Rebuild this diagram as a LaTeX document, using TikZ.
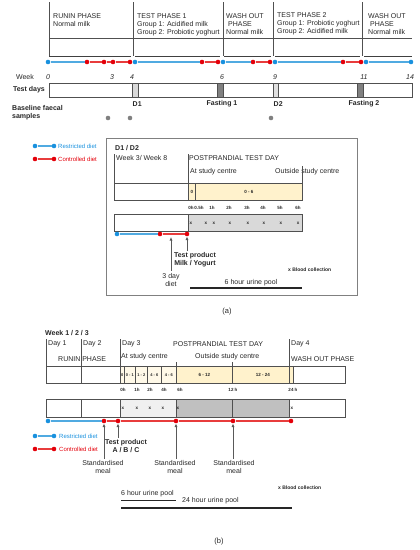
\documentclass[tikz,border=0pt]{standalone}
\usepackage{fontspec}
\setmainfont{Liberation Sans}
\usetikzlibrary{arrows.meta}
\definecolor{txt}{RGB}{38,38,38}
\definecolor{bline}{RGB}{80,170,225}
\definecolor{bdot}{RGB}{25,145,222}
\definecolor{rline}{RGB}{232,60,60}
\definecolor{rdot}{RGB}{228,0,10}
\definecolor{ylw}{RGB}{255,242,204}
\definecolor{ylwl}{RGB}{255,249,232}
\definecolor{gryl}{RGB}{240,240,240}
\definecolor{gryd}{RGB}{192,192,192}
\definecolor{gryb}{RGB}{217,217,217}
\definecolor{edge}{RGB}{80,80,80}
\begin{document}
\begin{tikzpicture}[x=1pt,y=-1pt,
  font=\fontsize{7}{8}\selectfont, text=txt,
  lbl/.style={inner sep=0pt},
  tinyb/.style={inner sep=0pt,font=\bfseries\fontsize{4.5}{5}\selectfont},
  small/.style={inner sep=0pt,font=\fontsize{6}{7}\selectfont},
  bd/.style={circle,fill=bdot,inner sep=0pt,minimum size=4.6pt},
  rd/.style={circle,fill=rdot,inner sep=0pt,minimum size=4.6pt},
  gd/.style={circle,fill=gray,inner sep=0pt,minimum size=4.6pt},
  bl/.style={draw=bline,line width=1.2pt},
  rl/.style={draw=rline,line width=1.2pt},
  grid/.style={draw=edge,line width=0.6pt},
  bar/.style={draw=black!75,line width=1.8pt},
  arr/.style={-{Latex[length=3.5pt,width=3pt]},line width=0.7pt,draw=black!65},
  cell/.style={grid,inner sep=0pt,anchor=north west}
]
\useasboundingbox (0,0) rectangle (420,550);

% ================= (a) top timeline =================
\foreach \x in {49,133,223,273,362} \draw[grid] (\x,2) -- (\x,56);
\draw[grid] (49,38) -- (412,38);
\foreach \a/\b in {49/131,135/220,224/271,275/360,364/412} \draw[bar] (\a,56.5) -- (\b,56.5);

\node[lbl,anchor=north west,align=left] (p1) at (53,13.5) {RUNIN PHASE\\Normal milk};
\node[lbl,anchor=north west,align=left] (p2) at (137,13.5) {TEST PHASE 1\\Group 1: Acidified milk\\Group 2: Probiotic yoghurt};
\node[lbl,anchor=north west,align=left] (p3) at (226,13.5) {WASH OUT\\\ PHASE\\Normal milk};
\node[lbl,anchor=north west,align=left] (p4) at (277,12.5) {TEST PHASE 2\\Group 1: Probiotic yoghurt\\Group 2: Acidified milk};
\node[lbl,anchor=north west,align=left] (p5) at (368,13.5) {WASH OUT\\\ PHASE\\Normal milk};

\foreach \n/\x/\c in {0/48/bd,1/87/rd,2/104/rd,3/113/rd,4/130/rd,5/135/bd,6/202/rd,7/218/rd,8/223/bd,9/253/rd,10/270/rd,11/275/bd,12/343/rd,13/361/rd,14/366/bd,15/411/bd}
  \node[\c] (t\n) at (\x,62) {};
\draw[bl] (t0) -- (t1);
\draw[rl] (t1) -- (t2) -- (t3) -- (t4);
\draw[bl] (t5) -- (t6);
\draw[rl] (t6) -- (t7);
\draw[bl] (t8) -- (t9);
\draw[rl] (t9) -- (t10);
\draw[bl] (t11) -- (t12);
\draw[rl] (t12) -- (t13);
\draw[bl] (t14) -- (t15);

\node[lbl,anchor=east] (week) at (34,77) {Week};
\foreach \w/\x in {0/48,3/112,4/132,6/222,9/275,11/364,14/410}
  \node[lbl] (wk\w) at (\x,77) {\itshape \w};

\node[lbl,anchor=east,font=\bfseries\fontsize{7}{8}\selectfont] (testdays) at (45,90) {Test days};
\node[grid,anchor=north west,minimum width=363pt,minimum height=14pt,inner sep=0pt] (tdbox) at (49,83) {};
\node[grid,fill=gryb,anchor=north west,minimum width=6pt,minimum height=14pt,inner sep=0pt] (d1b) at (132,83) {};
\node[grid,fill=black!50,anchor=north west,minimum width=6pt,minimum height=14pt,inner sep=0pt] (f1b) at (217,83) {};
\node[grid,fill=black!12,anchor=north west,minimum width=5pt,minimum height=14pt,inner sep=0pt] (d2b) at (273,83) {};
\node[grid,fill=black!50,anchor=north west,minimum width=6pt,minimum height=14pt,inner sep=0pt] (f2b) at (357,83) {};

\begin{scope}[font=\bfseries\fontsize{7}{8}\selectfont]
\node[lbl,anchor=west] (d1) at (132.5,104) {D1};
\node[lbl] (f1) at (222,104) {Fasting 1};
\node[lbl,anchor=west] (d2) at (273.5,104) {D2};
\node[lbl] (f2) at (364,104) {Fasting 2};
\node[lbl,anchor=north west,align=left] (base) at (12,105) {Baseline faecal\\samples};
\end{scope}
\node[gd] (s1) at (108,118) {};
\node[gd] (s2) at (130,118) {};
\node[gd] (s3) at (271,118) {};

% legend (a)
\node[bd] (la1) at (35,146) {};
\node[bd] (la2) at (54,146) {};
\draw[bl] (la1) -- (la2);
\node[small,anchor=west,text=bdot] (lat) at (58,146) {Restricted diet};
\node[rd] (lb1) at (35,159) {};
\node[rd] (lb2) at (54,159) {};
\draw[rl] (lb1) -- (lb2);
\node[small,anchor=west,text=rdot] (lbt) at (58,159) {Controlled diet};

% ================= (a) detail box =================
\node[draw=black!50,line width=1pt,anchor=north west,minimum width=251pt,minimum height=157pt,inner sep=0pt] (abox) at (106,138) {};
\node[lbl,anchor=west,font=\bfseries\fontsize{7}{8}\selectfont] (d1d2) at (115,148) {D1 / D2};
\node[lbl,anchor=west] (wk38) at (116,158) {Week 3/ Week 8};
\node[lbl,anchor=west] (ptd) at (189,158) {POSTPRANDIAL  TEST DAY};
\node[lbl,anchor=west] (atsc) at (190,172) {At  study centre};
\node[lbl,anchor=west] (outsc) at (275,172) {Outside study centre};
\draw[grid] (114,154) -- (114,183);
\draw[grid] (188,154) -- (188,183);
\draw[grid] (302,166) -- (302,183);

\node[cell,minimum width=74pt,minimum height=17pt] (ar1a) at (114,183) {};
\node[cell,fill=ylw,minimum width=7pt,minimum height=17pt] (ar1b) at (188,183) {};
\node[tinyb] at (ar1b.center) {0};
\node[cell,fill=ylw,minimum width=107pt,minimum height=17pt] (ar1c) at (195,183) {};
\node[tinyb] at (ar1c.center) {0 - 6};

\foreach \t/\x in {0h/191,0.5h/199,1h/212,2h/229,3h/247,4h/263,5h/280,6h/298}
  \node[tinyb] (at\t) at (\x,208) {\t};

\node[cell,minimum width=74pt,minimum height=17pt] (ar2a) at (114,214) {};
\node[cell,fill=gryb,minimum width=114pt,minimum height=17pt] (ar2b) at (188,214) {};
\foreach \x in {191,206,214,230,248,264,281,298}
  \node[tinyb] at (\x,223) {x};

\node[bd] (ad1) at (117,234) {};
\node[rd] (ad2) at (160,234) {};
\node[rd] (ad3) at (187,234) {};
\draw[bl] (ad1) -- (ad2);
\draw[rl] (ad2) -- (ad3);
\coordinate (ad4) at (171,237);

\node[lbl,anchor=north,align=center,font=\bfseries\fontsize{7}{8}\selectfont] (atp) at (195,252.5) {Test product\\Milk / Yogurt};
\node[lbl,anchor=north,align=center] (a3d) at (171,273.5) {3 day\\diet};
\draw[arr] (a3d.north) ++(0,-3) coordinate (a3dn) (a3dn) -- (ad4);
\draw[arr] (atp.north -| ad3) ++(0,-2) coordinate (atpn) (atpn) -- (ad3);

\node[lbl,anchor=west,font=\bfseries\fontsize{5}{6}\selectfont] (abc) at (288,270) {x Blood collection};
\node[lbl] (aurine) at (251,283) {6 hour urine pool};
\coordinate (au1) at (190,288);
\coordinate (au2) at (302,288);
\draw[line width=1.5pt,black!85] (au1) -- (au2);

\node[lbl,font=\fontsize{7.5}{9}\selectfont] (capa) at (227,312) {(a)};

% ================= (b) =================
\node[lbl,anchor=west,font=\bfseries\fontsize{7}{8}\selectfont] (wk123) at (45,333) {Week 1 / 2 / 3};
\foreach \x in {46,81,120,289} \draw[grid] (\x,339) -- (\x,366);
\draw[grid] (176,362) -- (176,366);
\draw[grid] (232,362) -- (232,366);

\node[lbl,anchor=west] (day1) at (48,344) {Day 1};
\node[lbl,anchor=west] (day2) at (83,344) {Day 2};
\node[lbl,anchor=west] (day3) at (122,344) {Day 3};
\node[lbl,anchor=west] (bptd) at (173,344) {POSTPRANDIAL  TEST DAY};
\node[lbl,anchor=west] (day4) at (291,344) {Day 4};
\node[lbl,anchor=west] (brun) at (58,359) {RUNIN PHASE};
\node[lbl,anchor=west] (batsc) at (121,357) {At  study centre};
\node[lbl,anchor=west] (boutsc) at (195,357) {Outside study centre};
\node[lbl,anchor=west] (bwash) at (291,359) {WASH OUT PHASE};

% row 1
\foreach \n/\a/\w/\f in {1/46/35/white,2/81/39/white,3/120/4/ylwl,4/124/11/ylwl,5/135/12/ylwl,6/147/14/ylwl,7/161/15/ylwl,8/176/56/ylw,9/232/61/ylw,10/293/52/white}
  \node[cell,fill=\f,minimum width=\w pt,minimum height=17pt] (br\n) at (\a,366) {};
\foreach \n/\t in {3/0,4/0 - 1,5/1 - 2,6/4 - 6,7/4 - 6}
  \node[inner sep=0pt,font=\bfseries\fontsize{4}{5}\selectfont] at (br\n.center) {\t};
\node[tinyb] at (br8.center) {6 - 12};
\node[tinyb] at (br9.center) {12 - 24};
\draw[grid] (289,366) -- (289,383);

\foreach \n/\t/\x in {0/0h/123,1/1h/137,2/2h/150,4/4h/164,6/6h/180,12/12 h/233,24/24 h/293}
  \node[tinyb] (bt\n) at (\x,390) {\t};

% row 2
\foreach \n/\a/\w/\f in {1/46/35/white,2/81/39/white,3/120/56/gryl,4/176/56/gryd,5/232/57/gryd,6/289/56/white}
  \node[cell,fill=\f,minimum width=\w pt,minimum height=18pt] (bs\n) at (\a,399) {};
\foreach \x in {123,137,150,163,178,292}
  \node[tinyb] at (\x,408) {x};

% diet (b)
\node[bd] (bd0) at (48,421) {};
\foreach \n/\x in {1/104,2/118,3/176,4/233,5/291} \node[rd] (bd\n) at (\x,421) {};
\draw[bl] (bd0) -- (bd1);
\draw[rl] (bd1) -- (bd2) -- (bd3) -- (bd4) -- (bd5);

% arrows and labels (b)
\node[lbl,anchor=north,align=center,font=\bfseries\fontsize{7}{8}\selectfont] (btp) at (126,439.5) {Test product\\A / B / C};
\node[lbl,anchor=north,align=center] (sm1) at (103,460.5) {Standardised\\meal};
\node[lbl,anchor=north,align=center] (sm2) at (175,460.5) {Standardised\\meal};
\node[lbl,anchor=north,align=center] (sm3) at (234,460.5) {Standardised\\meal};
\draw[arr] (sm1.north -| bd1) ++(0,-2) coordinate (sm1n) (sm1n) -- (bd1);
\draw[arr] (sm2.north -| bd3) ++(0,-2) coordinate (sm2n) (sm2n) -- (bd3);
\draw[arr] (sm3.north -| bd4) ++(0,-2) coordinate (sm3n) (sm3n) -- (bd4);
\draw[arr] (btp.north -| bd2) ++(0,-2) coordinate (btpn) (btpn) -- (bd2);

% legend (b)
\node[bd] (lc1) at (35,436) {};
\node[bd] (lc2) at (54,436) {};
\draw[bl] (lc1) -- (lc2);
\node[small,anchor=west,text=bdot] (lct) at (59,436) {Restricted diet};
\node[rd] (ld1) at (35,449) {};
\node[rd] (ld2) at (54,449) {};
\draw[rl] (ld1) -- (ld2);
\node[small,anchor=west,text=rdot] (ldt) at (59,449) {Controlled diet};

\node[lbl,anchor=west,font=\bfseries\fontsize{5}{6}\selectfont] (bbc) at (278,488) {x Blood collection};
\node[lbl,anchor=west] (b6u) at (121,494) {6 hour urine pool};
\node[lbl,anchor=west] (b24u) at (182,501) {24 hour urine pool};
\coordinate (bu1) at (121,500);
\coordinate (bu2) at (176,500);
\coordinate (bu3) at (121,508);
\coordinate (bu4) at (292,508);
\draw[line width=1pt,black!85] (bu1) -- (bu2);
\draw[line width=1.3pt,black!85] (bu3) -- (bu4);

\node[lbl,font=\fontsize{7.5}{9}\selectfont] (capb) at (219,542) {(b)};
\end{tikzpicture}
\end{document}
